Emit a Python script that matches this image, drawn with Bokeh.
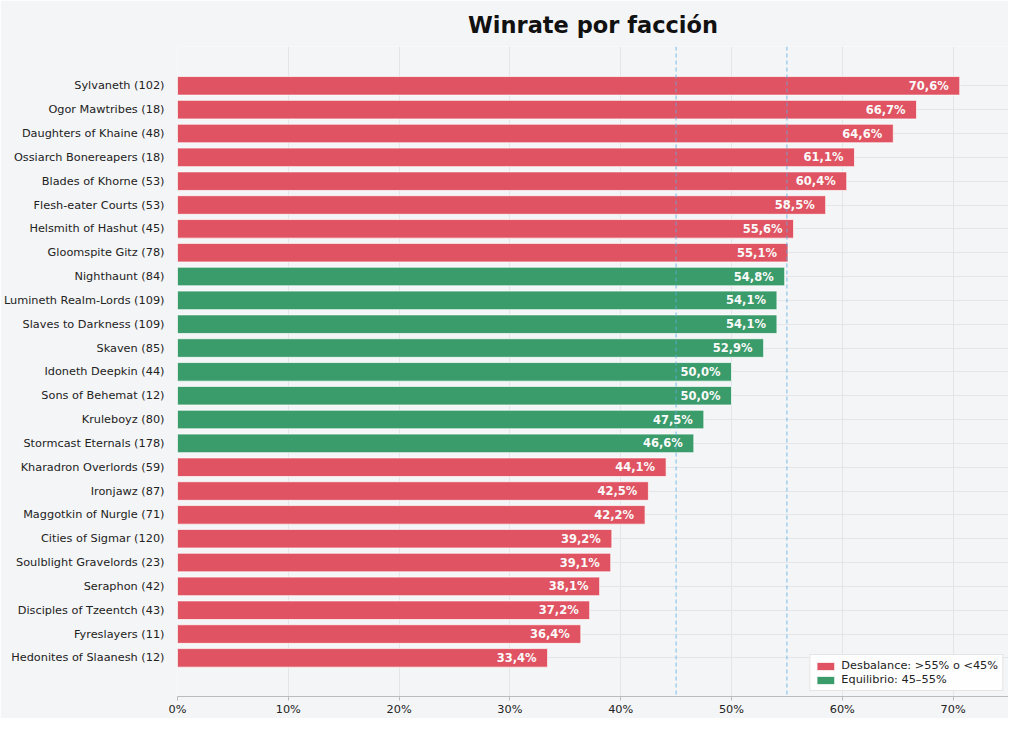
from bokeh.plotting import figure
from bokeh.models import ColumnDataSource, Span, FixedTicker, LabelSet
from bokeh.core.properties import value
from bokeh.embed import file_html
from bokeh.resources import INLINE

factions = ["Sylvaneth", "Ogor Mawtribes", "Daughters of Khaine", "Ossiarch Bonereapers",
            "Blades of Khorne", "Flesh-eater Courts", "Helsmith of Hashut", "Gloomspite Gitz",
            "Nighthaunt", "Lumineth Realm-Lords", "Slaves to Darkness", "Skaven",
            "Idoneth Deepkin", "Sons of Behemat", "Kruleboyz", "Stormcast Eternals",
            "Kharadron Overlords", "Ironjawz", "Maggotkin of Nurgle", "Cities of Sigmar",
            "Soulblight Gravelords", "Seraphon", "Disciples of Tzeentch", "Fyreslayers",
            "Hedonites of Slaanesh"]
games = [102, 18, 48, 18, 53, 53, 45, 78, 84, 109, 109, 85, 44, 12, 80, 178,
         59, 87, 71, 120, 23, 42, 43, 11, 12]
winrate = [70.6, 66.7, 64.6, 61.1, 60.4, 58.5, 55.6, 55.1, 54.8, 54.1, 54.1, 52.9,
           50.0, 50.0, 47.5, 46.6, 44.1, 42.5, 42.2, 39.2, 39.1, 38.1, 37.2, 36.4, 33.4]
x_ticks = [0, 10, 20, 30, 40, 50, 60, 70]
thresholds = [45, 55]

RED = "#E05362"
GREEN = "#3A9B6B"
FONT = "DejaVu Sans"

n = len(factions)
ys = [n - 1 - i for i in range(n)]
labels = [f"{f} ({g})" for f, g in zip(factions, games)]
txt = [f"{v:.1f}".replace(".", ",") + "%" for v in winrate]

def subset(cond):
    idx = [i for i in range(n) if cond(winrate[i])]
    return ColumnDataSource(dict(y=[ys[i] for i in idx], v=[winrate[i] for i in idx],
                                 t=[txt[i] for i in idx]))

bal = lambda v: thresholds[0] <= v <= thresholds[1]
src_red = subset(lambda v: not bal(v))
src_green = subset(bal)
src_all = ColumnDataSource(dict(y=ys, v=winrate, t=txt))

p = figure(width=1008, height=718, output_backend="svg", toolbar_location=None,
           x_range=(0, 75), y_range=(-1.62, n - 1 + 1.65),
           background_fill_color="#F4F5F7", border_fill_color="#F4F5F7",
           min_border_left=176, min_border_right=0, min_border_top=46, min_border_bottom=5)
p.outline_line_color = None

p.title.text = "Winrate por facción"
p.title.align = "center"
p.title.text_font = FONT
p.title.text_font_size = "22.5px"
p.title.text_font_style = "bold"
p.title.text_color = "#111111"
p.title.offset = 0
p.title.standoff = 18

p.hbar(y="y", right="v", left=0, height=0.78, source=src_red, fill_color=RED,
       line_color="white", line_width=1, line_alpha=0.7,
       legend_label="Desbalance: >55% o <45%")
p.hbar(y="y", right="v", left=0, height=0.78, source=src_green, fill_color=GREEN,
       line_color="white", line_width=1, line_alpha=0.7,
       legend_label="Equilibrio: 45–55%")

for t in thresholds:
    p.add_layout(Span(location=t, dimension="height", line_color="#5DADE2",
                      line_dash="4 3", line_width=1, line_alpha=0.8))

p.add_layout(LabelSet(x="v", y="y", text="t", source=src_all, x_offset=-11,
                      text_align="right", text_baseline="middle", text_color="#FAFAFA",
                      text_font=value(FONT), text_font_size="11.5px", text_font_style="bold"))

p.xaxis.ticker = FixedTicker(ticks=x_ticks)
p.xaxis.major_label_overrides = {t: f"{t}%" for t in x_ticks}
p.xaxis.major_label_text_font = FONT
p.xaxis.major_label_text_font_size = "11.3px"
p.xaxis.major_label_text_color = "#222222"
p.xaxis.axis_line_color = "#BBBBBB"
p.xaxis.major_tick_line_color = "#BBBBBB"
p.xaxis.major_tick_out = 4
p.xaxis.major_tick_in = 0
p.xaxis.minor_tick_line_color = None
p.xaxis.major_label_standoff = 2

p.yaxis.ticker = FixedTicker(ticks=ys)
p.yaxis.major_label_overrides = {y: l for y, l in zip(ys, labels)}
p.yaxis.major_label_text_font = FONT
p.yaxis.major_label_text_font_size = "11.3px"
p.yaxis.major_label_text_color = "#222222"
p.yaxis.axis_line_color = None
p.yaxis.major_tick_line_color = None
p.yaxis.minor_tick_line_color = None
p.yaxis.major_label_standoff = 7

p.xgrid.grid_line_color = "#E3E5E8"
p.ygrid.grid_line_color = "#E3E5E8"
p.xgrid.level = "underlay"
p.ygrid.level = "underlay"

p.legend.location = "bottom_right"
p.legend.background_fill_color = "white"
p.legend.background_fill_alpha = 0.9
p.legend.border_line_color = "#CCCCCC"
p.legend.label_text_font = FONT
p.legend.label_text_font_size = "11.3px"
p.legend.label_text_color = "#222222"
p.legend.glyph_width = 22
p.legend.glyph_height = 10
p.legend.label_height = 12
p.legend.spacing = 1
p.legend.padding = 4
p.legend.margin = 5

open("out.html", "w").write(file_html(p, INLINE))
